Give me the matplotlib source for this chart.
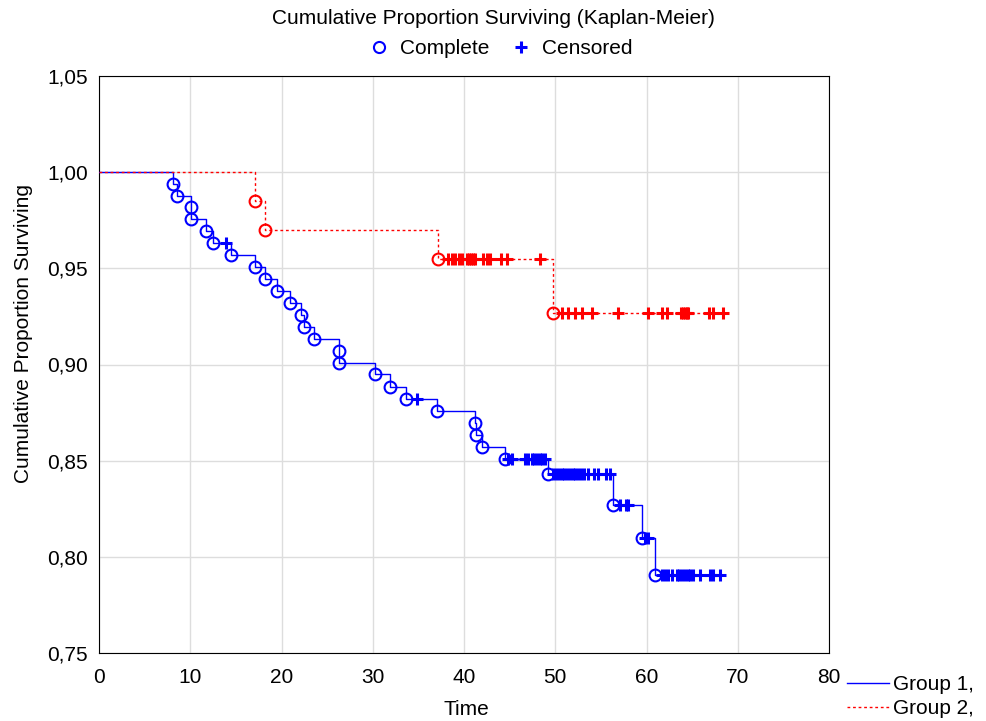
import numpy as np
import matplotlib
matplotlib.use('Agg')
import matplotlib.pyplot as plt
from matplotlib.lines import Line2D

plt.rcParams['font.family'] = ['Liberation Sans', 'DejaVu Sans']

# Group 1: event times and survival
g1_times = [8.14, 8.52, 10.05, 10.12, 11.69, 12.53, 14.47, 17.13, 18.19, 19.54,
            20.93, 22.14, 22.50, 23.58, 26.27, 26.30, 30.28, 31.92, 33.61, 37.01,
            41.20, 41.34, 41.92, 44.49, 49.24, 56.36, 59.47, 60.93]
g1_surv = [0.9938, 0.9877, 0.9817, 0.9756, 0.9695, 0.9633, 0.9567, 0.9506, 0.9444, 0.9381,
           0.9319, 0.9257, 0.9196, 0.9132, 0.9070, 0.9009, 0.8949, 0.8883, 0.8820, 0.8759,
           0.8695, 0.8633, 0.8569, 0.8507, 0.8430, 0.8269, 0.8096, 0.7905]
g1_censored = [13.9, 34.9,
               44.85, 45.3, 46.7, 47.05, 47.4, 47.7, 48.0, 48.3, 48.6, 48.9,
               49.8, 50.1, 50.4, 50.7, 51.0, 51.3, 51.6, 51.9, 52.2, 52.5, 52.8, 53.1,
               53.6, 54.2, 54.7, 55.6, 56.0,
               57.1, 57.75, 58.0,
               59.8, 60.2,
               61.7, 62.0, 62.4, 62.8, 63.3, 63.6, 63.9, 64.2, 64.5, 64.8, 65.1,
               65.9, 67.0, 67.3, 68.1]

# Group 2
g2_times = [17.13, 18.19, 37.2, 49.7]
g2_surv = [0.985, 0.970, 0.955, 0.927]
g2_censored = [38.3, 38.65, 39.0, 39.4, 39.75, 40.3, 40.5, 40.8, 41.0, 41.2,
               42.1, 42.5, 42.8, 44.1, 44.7, 48.3,
               50.7, 51.4, 52.2, 52.9, 54.0, 56.9, 60.2, 61.7, 62.2,
               63.8, 64.0, 64.2, 64.4, 64.6, 66.9, 67.3, 68.4]

x_ticks = np.arange(0, 81, 10)
y_ticks = [0.75, 0.80, 0.85, 0.90, 0.95, 1.00, 1.05]


def surv_at(t, times, surv):
    i = np.searchsorted(times, t, side='right')
    return np.where(i == 0, 1.0, np.array([1.0] + list(surv))[i])


fs = 15
fig = plt.figure(figsize=(9.86, 7.21), dpi=100)
ax = fig.add_axes([99 / 986, 1 - 653 / 721, 730 / 986, 577 / 721])

groups = [(g1_times, g1_surv, g1_censored, '#0000ff', '-'),
          (g2_times, g2_surv, g2_censored, '#ff0000', (0, (2, 2)))]
for times, surv, cens, col, ls in groups:
    xs = [0] + times + [max(cens)]
    ys = [1.0] + surv + [surv[-1]]
    ax.step(xs, ys, where='post', color=col, lw=1, ls=ls, zorder=3)
    ax.plot(times, surv, 'o', mfc='none', mec=col, ms=8.5, mew=1.5, zorder=4)
    ax.plot(cens, surv_at(cens, times, surv), '+', color=col, ms=8, mew=2.2, zorder=4)

ax.set_xlim(0, 80)
ax.set_ylim(0.75, 1.05)
ax.set_xticks(x_ticks)
ax.set_yticks(y_ticks)
ax.set_yticklabels([f'{v:.2f}'.replace('.', ',') for v in y_ticks])
ax.tick_params(labelsize=fs, direction='in', length=0)
ax.tick_params(axis='x', pad=11)
ax.tick_params(axis='y', pad=8)
ax.grid(True, color='#dddddd', lw=1)
ax.set_axisbelow(True)
for s in ax.spines.values():
    s.set_linewidth(0.8)
ax.set_xlabel('Time', fontsize=fs)
ax.set_ylabel('Cumulative Proportion Surviving', fontsize=fs)
ax.xaxis.set_label_coords(0.503, -0.098)
ax.yaxis.set_label_coords(-0.103, 0.553)
ax.xaxis.label.set_va('center')
ax.yaxis.label.set_va('center')

fig.text(0.5, 1 - 19 / 721, 'Cumulative Proportion Surviving (Kaplan-Meier)',
         ha='center', va='center', fontsize=fs)

top_handles = [Line2D([], [], ls='none', marker='o', mfc='none', mec='#0000ff', ms=8, mew=1.5),
               Line2D([], [], ls='none', marker='+', color='#0000ff', ms=9, mew=2.2)]
fig.legend(top_handles, ['Complete', 'Censored'], loc='center', ncol=2,
           bbox_to_anchor=(498 / 986, 1 - 49 / 721), frameon=False, fontsize=fs,
           handletextpad=0.25, columnspacing=0.8, handlelength=1.5)

grp_handles = [Line2D([], [], color='#0000ff', lw=1),
               Line2D([], [], color='#ff0000', lw=1, ls=(0, (2, 2)))]
fig.legend(grp_handles, ['Group 1,', 'Group 2,'], loc='upper left',
           bbox_to_anchor=(845 / 986, 1 - 673 / 721), frameon=False, fontsize=fs,
           handlelength=2, handletextpad=0.2, labelspacing=0.25, borderpad=0.1,
           borderaxespad=0)

fig.savefig('out.png', dpi=100)
